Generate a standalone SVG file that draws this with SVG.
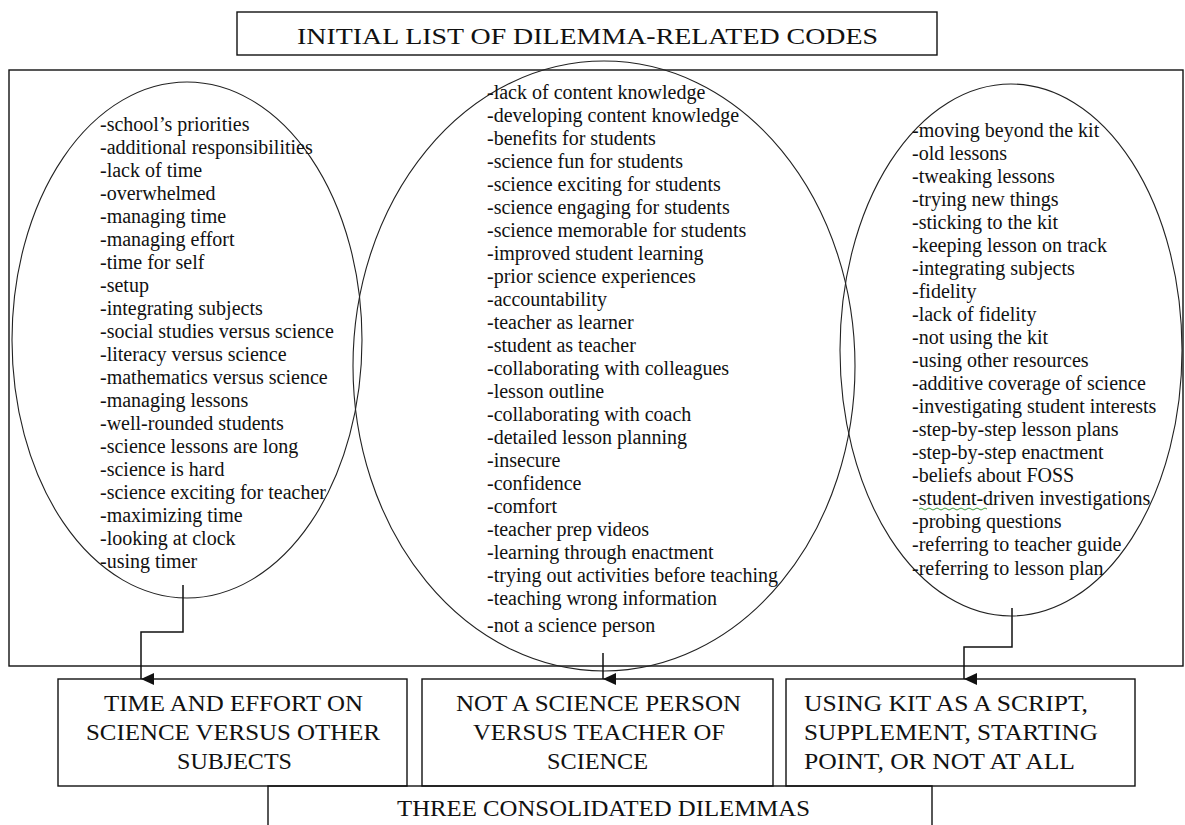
<svg xmlns="http://www.w3.org/2000/svg" width="1185" height="825" viewBox="0 0 1185 825">
<style>
.box{fill:none;stroke:#111;stroke-width:1.4}
.ell{fill:none;stroke:#222;stroke-width:1.1}
.con{fill:none;stroke:#111;stroke-width:1.5}
.list{font-family:"Liberation Serif","Times New Roman",serif;font-size:20px;fill:#111}
.head{font-family:"Liberation Serif","Times New Roman",serif;font-size:23px;fill:#111}
</style>
<defs>
<marker id="arr" viewBox="0 0 12 13" refX="6" refY="13" markerWidth="12" markerHeight="13" markerUnits="userSpaceOnUse" orient="auto-start-reverse">
<path d="M0,0 L12,0 L6,13 Z" fill="#111"/>
</marker>
</defs>
<rect width="1185" height="825" fill="#fff"/>

<g id="title">
<rect class="box" x="237" y="12" width="700" height="43"/>
<text class="head" x="297" y="44" textLength="581" lengthAdjust="spacingAndGlyphs">INITIAL LIST OF DILEMMA-RELATED  CODES</text>
</g>

<g id="initial-list">
<rect class="box" x="9" y="70" width="1174" height="596"/>
</g>

<g id="cluster-time">
<ellipse class="ell" cx="187" cy="340" rx="175" ry="258"/>
<text class="list">
<tspan x="100" y="131">-school’s priorities</tspan>
<tspan x="100" y="154">-additional responsibilities</tspan>
<tspan x="100" y="177">-lack of time</tspan>
<tspan x="100" y="200">-overwhelmed</tspan>
<tspan x="100" y="223">-managing time</tspan>
<tspan x="100" y="246">-managing effort</tspan>
<tspan x="100" y="269">-time for self</tspan>
<tspan x="100" y="292">-setup</tspan>
<tspan x="100" y="315">-integrating subjects</tspan>
<tspan x="100" y="338">-social studies versus science</tspan>
<tspan x="100" y="361">-literacy versus science</tspan>
<tspan x="100" y="384">-mathematics versus science</tspan>
<tspan x="100" y="407">-managing lessons</tspan>
<tspan x="100" y="430">-well-rounded students</tspan>
<tspan x="100" y="453">-science lessons are long</tspan>
<tspan x="100" y="476">-science is hard</tspan>
<tspan x="100" y="499">-science exciting for teacher</tspan>
<tspan x="100" y="522">-maximizing time</tspan>
<tspan x="100" y="545">-looking at clock</tspan>
<tspan x="100" y="568">-using timer</tspan>
</text>
</g>

<g id="cluster-science-person">
<ellipse class="ell" cx="604" cy="366" rx="251" ry="305"/>
<text class="list">
<tspan x="487" y="99">-lack of content knowledge</tspan>
<tspan x="487" y="122">-developing content knowledge</tspan>
<tspan x="487" y="145">-benefits for students</tspan>
<tspan x="487" y="168">-science fun for students</tspan>
<tspan x="487" y="191">-science exciting for students</tspan>
<tspan x="487" y="214">-science engaging for students</tspan>
<tspan x="487" y="237">-science memorable for students</tspan>
<tspan x="487" y="260">-improved student learning</tspan>
<tspan x="487" y="283">-prior science experiences</tspan>
<tspan x="487" y="306">-accountability</tspan>
<tspan x="487" y="329">-teacher as learner</tspan>
<tspan x="487" y="352">-student as teacher</tspan>
<tspan x="487" y="375">-collaborating with colleagues</tspan>
<tspan x="487" y="398">-lesson outline</tspan>
<tspan x="487" y="421">-collaborating with coach</tspan>
<tspan x="487" y="444">-detailed lesson planning</tspan>
<tspan x="487" y="467">-insecure</tspan>
<tspan x="487" y="490">-confidence</tspan>
<tspan x="487" y="513">-comfort</tspan>
<tspan x="487" y="536">-teacher prep videos</tspan>
<tspan x="487" y="559">-learning through enactment</tspan>
<tspan x="487" y="582">-trying out activities before teaching</tspan>
<tspan x="487" y="605">-teaching wrong information</tspan>
<tspan x="487" y="632">-not a science person</tspan>
</text>
</g>

<g id="cluster-kit">
<ellipse class="ell" cx="1011" cy="350" rx="171" ry="266"/>
<text class="list">
<tspan x="912" y="137">-moving beyond the kit</tspan>
<tspan x="912" y="160">-old lessons</tspan>
<tspan x="912" y="183">-tweaking lessons</tspan>
<tspan x="912" y="206">-trying new things</tspan>
<tspan x="912" y="229">-sticking to the kit</tspan>
<tspan x="912" y="252">-keeping lesson on track</tspan>
<tspan x="912" y="275">-integrating subjects</tspan>
<tspan x="912" y="298">-fidelity</tspan>
<tspan x="912" y="321">-lack of fidelity</tspan>
<tspan x="912" y="344">-not using the kit</tspan>
<tspan x="912" y="367">-using other resources</tspan>
<tspan x="912" y="390">-additive coverage of science</tspan>
<tspan x="912" y="413">-investigating student interests</tspan>
<tspan x="912" y="436">-step-by-step lesson plans</tspan>
<tspan x="912" y="459">-step-by-step enactment</tspan>
<tspan x="912" y="482">-beliefs about FOSS</tspan>
<tspan x="912" y="505">-student-driven investigations</tspan>
<tspan x="912" y="528">-probing questions</tspan>
<tspan x="912" y="551">-referring to teacher guide</tspan>
<tspan x="912" y="575">-referring to lesson plan</tspan>
</text>
<path d="M919,509 q2,-2 4,0 t4,0 t4,0 t4,0 t4,0 t4,0 t4,0 t4,0 t4,0 t4,0 t4,0 t4,0 t4,0 t4,0 t4,0 t4,0 t4,0" fill="none" stroke="#3a9a3a" stroke-width="1"/>
</g>

<g id="connectors">
<path class="con" d="M183,585 V632 H141 V679" marker-end="url(#arr)"/>
<path class="con" d="M603,653 V679" marker-end="url(#arr)"/>
<path class="con" d="M1012,608 V647 H964 V679" marker-end="url(#arr)"/>
</g>

<g id="dilemma-time">
<rect class="box" x="58" y="679" width="349" height="107"/>
<text class="head">
<tspan x="104" y="711" textLength="259" lengthAdjust="spacingAndGlyphs">TIME AND EFFORT ON</tspan>
<tspan x="86" y="740" textLength="294" lengthAdjust="spacingAndGlyphs">SCIENCE VERSUS OTHER</tspan>
<tspan x="177" y="769" textLength="115" lengthAdjust="spacingAndGlyphs">SUBJECTS</tspan>
</text>
</g>

<g id="dilemma-science-person">
<rect class="box" x="422" y="679" width="351" height="107"/>
<text class="head">
<tspan x="456" y="711" textLength="285" lengthAdjust="spacingAndGlyphs">NOT A SCIENCE PERSON</tspan>
<tspan x="473" y="740" textLength="252" lengthAdjust="spacingAndGlyphs">VERSUS  TEACHER OF</tspan>
<tspan x="547" y="769" textLength="101" lengthAdjust="spacingAndGlyphs">SCIENCE</tspan>
</text>
</g>

<g id="dilemma-kit">
<rect class="box" x="786" y="679" width="349" height="107"/>
<text class="head">
<tspan x="804" y="711" textLength="284" lengthAdjust="spacingAndGlyphs">USING KIT AS A SCRIPT,</tspan>
<tspan x="804" y="740" textLength="294" lengthAdjust="spacingAndGlyphs">SUPPLEMENT,  STARTING</tspan>
<tspan x="804" y="769" textLength="271" lengthAdjust="spacingAndGlyphs">POINT, OR NOT AT ALL</tspan>
</text>
</g>

<g id="consolidated">
<rect class="box" x="268" y="786" width="664" height="60"/>
<text class="head" x="397" y="816" textLength="413" lengthAdjust="spacingAndGlyphs">THREE CONSOLIDATED  DILEMMAS</text>
</g>
</svg>
